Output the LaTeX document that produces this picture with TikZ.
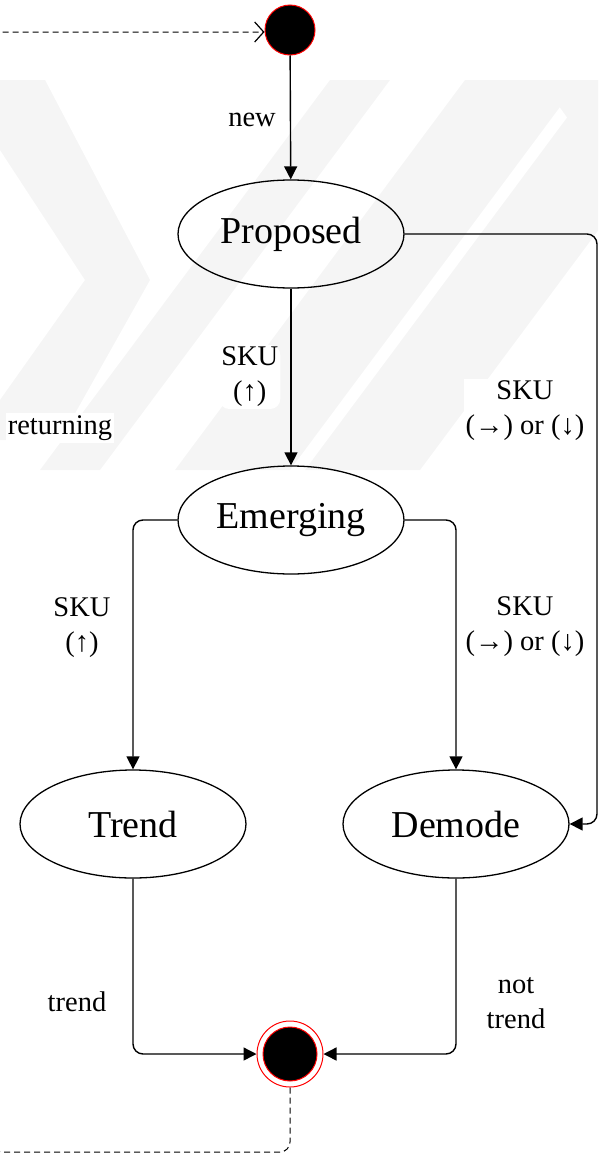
\documentclass[tikz,border=0pt]{standalone}
\usepackage{fontspec}
\setmainfont{Liberation Serif}
\usetikzlibrary{arrows.meta,shapes.geometric}
\begin{document}
\begin{tikzpicture}[x=1pt,y=-1pt,
  state/.style={ellipse,draw,line width=1.3pt,minimum width=226pt,minimum height=108pt,inner sep=0pt,font=\fontsize{38}{44}\selectfont},
  lbl/.style={fill=white,inner sep=2pt,align=center,font=\fontsize{28.5}{35}\selectfont},
  arr/.style={draw,line width=1.4pt,rounded corners=10pt,-{Triangle[length=13pt,width=13pt]}},
  ret/.style={draw,line width=1pt,dash pattern=on 6pt off 4pt,rounded corners=10pt,-{Straight Barb[length=9pt,width=20pt,line width=1.2pt]}},
  wm/.style={fill=black!4}]
\useasboundingbox (0,0) rectangle (598,1154);
% watermark
\begin{scope}
\clip (0,80) rectangle (598,470);
\fill[wm] (0,80) -- (45,80) -- (150,280) -- (60,440) -- (0,440) -- (0,400) -- (85,280) -- (0,150) -- cycle;
\fill[wm] (330,80) -- (390,80) -- (100,470) -- (40,470) -- cycle;
\fill[wm] (465,80) -- (580,80) -- (290,470) -- (175,470) -- cycle;
\fill[wm] (595,80) -- (710,80) -- (420,470) -- (305,470) -- cycle;
\fill[wm] (540,80) -- (598,80) -- (598,160) -- cycle;
\end{scope}
% nodes
\node[circle,fill=black,draw=red,line width=1pt,minimum size=50pt,inner sep=0pt] (init) at (290,30) {};
\node[state] (prop) at (291,234) {Proposed};
\node[state] (em) at (291,520) {Emerging};
\node[state] (trend) at (133,824) {Trend};
\node[state] (dem) at (456,824) {Demode};
\node[circle,fill=white,draw=red,line width=1pt,minimum size=66pt,inner sep=0pt] (fin) at (290,1054) {};
\node[circle,fill=black,draw=red,line width=1pt,minimum size=54pt,inner sep=0pt] (finin) at (fin) {};
\coordinate (rc) at (597,824);
\coordinate (r1) at (-8,1152);
\coordinate (r2) at (-8,32);
% connectors
\draw[arr] (init) -- (prop) node[pos=0.52,lbl,left=12pt] (lnew) {new};
\draw[arr] (prop) -- (em) node[pos=0.5,lbl,left=10pt] (lsku1) {SKU\\(↑)};
\draw[arr] (prop.east) -| (rc) -- (dem.east);
\node[lbl] (lsku2) at (525,411) {SKU\\(→) or (↓)};
\draw[arr] (em.west) -| (trend.north);
\node[lbl] (lsku3) at (82,628) {SKU\\(↑)};
\draw[arr] (em.east) -| (dem.north);
\node[lbl] (lsku4) at (525,627) {SKU\\(→) or (↓)};
\draw[arr] (trend.south) |- (fin.west);
\node[lbl] (ltrend) at (77,1002) {trend};
\draw[arr] (dem.south) |- (fin.east);
\node[lbl] (lnot) at (516,1003) {not\\trend};
\draw[ret] (fin.south) |- (r1) -- (r2) -- (init.west |- r2);
\node[lbl] (lret) at (60,428) {returning};
\end{tikzpicture}
\end{document}
